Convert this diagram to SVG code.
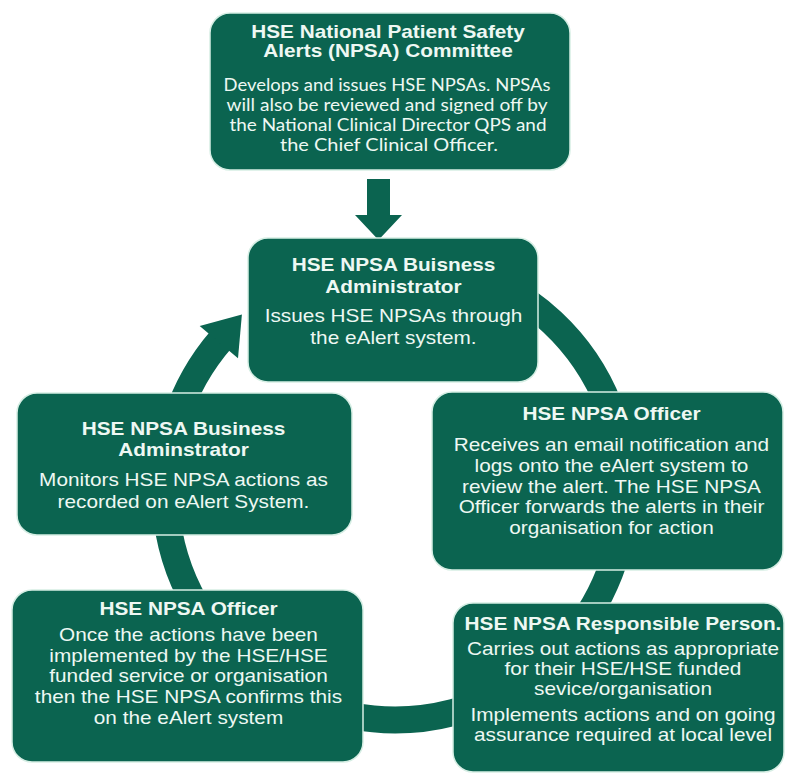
<svg xmlns="http://www.w3.org/2000/svg" width="786" height="776" viewBox="0 0 786 776">
<style>
.box{fill:#0b6450;stroke:#d6eee4;stroke-width:1.5}
.t text{font-family:"Liberation Sans",Arial,sans-serif;font-size:18px;fill:#eef8f3;text-anchor:middle}
.t .h{font-weight:bold}
.c text{font-family:Lato,"Open Sans",sans-serif;font-size:18px;fill:#eef8f3;text-anchor:middle}
.ink{fill:#0b6450}
</style>
<rect width="786" height="776" fill="#ffffff"/>
<g id="connectors">
<path d="M 473.7 273.8 A 230 230 0 1 1 221.4 339.1" fill="none" stroke="#0b6450" stroke-width="27"/>
<polygon class="ink" points="199.7,326.1 241.9,314.6 238,358.2"/>
<polygon class="ink" points="367,179 390,179 390,215 402,215 378.5,240 355,215 367,215"/>
</g>
<g id="committee">
<rect class="box" x="210" y="13" width="360" height="157" rx="20"/>
<g class="t" transform="matrix(1.155 0 0 1 -60.14 0)">
<text class="h" x="388" y="38.5">HSE National Patient Safety</text>
<text class="h" x="388" y="57.5">Alerts (NPSA) Committee</text>
</g>
<g class="c">
<text x="387" y="90.5" textLength="327" lengthAdjust="spacingAndGlyphs">Develops and issues HSE NPSAs. NPSAs</text>
<text x="387" y="110.5" textLength="321" lengthAdjust="spacingAndGlyphs">will also be reviewed and signed off by</text>
<text x="388" y="130.5" textLength="317" lengthAdjust="spacingAndGlyphs">the National Clinical Director QPS and</text>
<text x="389" y="150.5" textLength="218" lengthAdjust="spacingAndGlyphs">the Chief Clinical Officer.</text>
</g>
</g>
<g id="admin-issue">
<rect class="box" x="248" y="238" width="290" height="144" rx="20"/>
<g class="t" transform="matrix(1.155 0 0 1 -60.99 0)">
<text class="h" x="393.5" y="271.5">HSE NPSA Buisness</text>
<text class="h" x="393.5" y="293">Administrator</text>
<text x="393.5" y="322.5">Issues HSE NPSAs through</text>
<text x="393.5" y="344">the eAlert system.</text>
</g>
</g>
<g id="officer-receive">
<rect class="box" x="432" y="392" width="351" height="178" rx="20"/>
<g class="t" transform="matrix(1.155 0 0 1 -94.78 0)">
<text class="h" x="611.5" y="420">HSE NPSA Officer</text>
<text x="611.5" y="451.5">Receives an email notification and</text>
<text x="611.5" y="472">logs onto the eAlert system to</text>
<text x="611.5" y="493">review the alert. The HSE NPSA</text>
<text x="611.5" y="513.5">Officer forwards the alerts in their</text>
<text x="611.5" y="534">organisation for action</text>
</g>
</g>
<g id="responsible-person">
<rect class="box" x="453" y="603" width="331" height="169" rx="20"/>
<g class="t" transform="matrix(1.155 0 0 1 -96.57 0)">
<text class="h" x="623" y="630">HSE NPSA Responsible Person.</text>
<text x="623" y="655">Carries out actions as appropriate</text>
<text x="623" y="675">for their HSE/HSE funded</text>
<text x="623" y="695.5">sevice/organisation</text>
<text x="623" y="721.5">Implements actions and on going</text>
<text x="623" y="741.5">assurance required at local level</text>
</g>
</g>
<g id="officer-confirm">
<rect class="box" x="12" y="590" width="351" height="172" rx="20"/>
<g class="t" transform="matrix(1.155 0 0 1 -29.22 0)">
<text class="h" x="188.5" y="615">HSE NPSA Officer</text>
<text x="188.5" y="641.5">Once the actions have been</text>
<text x="188.5" y="662">implemented by the HSE/HSE</text>
<text x="188.5" y="682.5">funded service or organisation</text>
<text x="188.5" y="703">then the HSE NPSA confirms this</text>
<text x="188.5" y="724">on the eAlert system</text>
</g>
</g>
<g id="admin-monitor">
<rect class="box" x="17" y="393" width="335" height="142" rx="20"/>
<g class="t" transform="matrix(1.155 0 0 1 -28.44 0)">
<text class="h" x="183.5" y="435">HSE NPSA Business</text>
<text class="h" x="183.5" y="456">Adminstrator</text>
<text x="183.5" y="486.5">Monitors HSE NPSA actions as</text>
<text x="183.5" y="508">recorded on eAlert System.</text>
</g>
</g>
</svg>
